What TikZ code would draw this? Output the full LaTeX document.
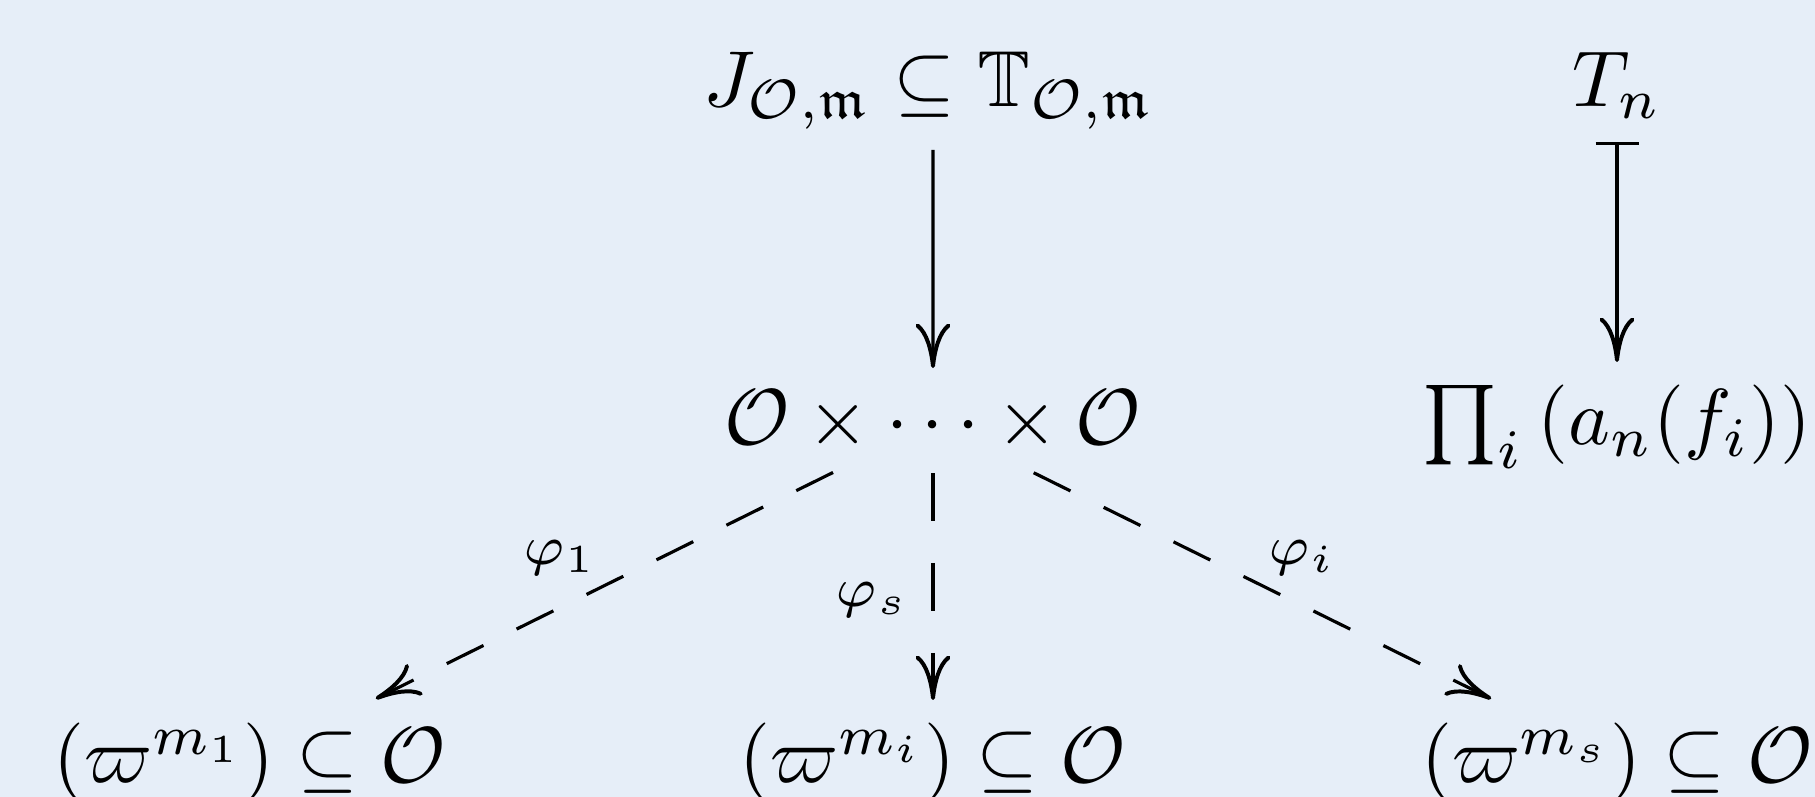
\documentclass[tikz,border=0pt]{standalone}
\usepackage{amsmath,amssymb}
\usetikzlibrary{arrows.meta}
\definecolor{bgblue}{RGB}{230,238,248}
\begin{document}
\begin{tikzpicture}[x=0.126pt,y=-0.126pt,
  obj/.style={anchor=base, inner sep=0pt},
  lab/.style={anchor=base, inner sep=0pt},
  cmtip/.tip={Computer Modern Rightarrow[length=5.6pt,width=4.4pt,line width=0.5pt]},
  arr/.style={line width=0.4pt, -cmtip},
  maparr/.style={line width=0.4pt, {Bar[width=5.42pt]}-cmtip},
  dashdiag/.style={dash pattern=on 5.17pt off 4.66pt},
  dashvert/.style={dash pattern=on 6.05pt off 5.29pt}]
\fill[bgblue] (0,0) rectangle (1815,797);
\useasboundingbox (0,0) rectangle (1815,797);
\clip (0,0) rectangle (1815,797);
% objects
\node[obj] (top) at (929,107) {$J_{\mathcal{O},\mathfrak{m}} \subseteq \mathbb{T}_{\mathcal{O},\mathfrak{m}}$};
\node[obj] (tn)  at (1617,107) {$T_n$};
\node[obj] (mid) at (933,445) {$\mathcal{O}\times\cdots\times\mathcal{O}$};
\node[obj] (pi)  at (1617,445) {$\prod_i\left(a_n(f_i)\right)$};
\node[obj] (bl)  at (250,783) {$(\varpi^{m_1}) \subseteq \mathcal{O}$};
\node[obj] (bm)  at (933,783) {$(\varpi^{m_i}) \subseteq \mathcal{O}$};
\node[obj] (br)  at (1617,783) {$(\varpi^{m_s}) \subseteq \mathcal{O}$};
% labels
\node[lab] (l1) at (560,565) {$\scriptstyle\varphi_1$};
\node[lab] (ls) at (872,607) {$\scriptstyle\varphi_s$};
\node[lab] (li) at (1302,565) {$\scriptstyle\varphi_i$};
% arrows
\draw[arr, shorten <=8.19pt, shorten >=6.93pt] ([xshift=0.5pt,yshift=2.77pt]top.base) -- ([yshift=2.77pt]mid.base);
\draw[maparr, shorten <=7.18pt, shorten >=7.69pt] ([yshift=2.77pt]tn.base) -- ([yshift=2.77pt]pi.base);
\draw[arr, dashdiag, shorten <=14.05pt, shorten >=17.69pt] ([yshift=2.77pt]mid.base) -- ([yshift=2.77pt]bl.base);
\draw[arr, dashvert, shorten <=6.3pt, shorten >=7.69pt] ([yshift=2.77pt]mid.base) -- ([yshift=2.77pt]bm.base);
\draw[arr, dashdiag, shorten <=14.15pt, shorten >=17.69pt] ([yshift=2.77pt]mid.base) -- ([yshift=2.77pt]br.base);
\end{tikzpicture}
\end{document}
